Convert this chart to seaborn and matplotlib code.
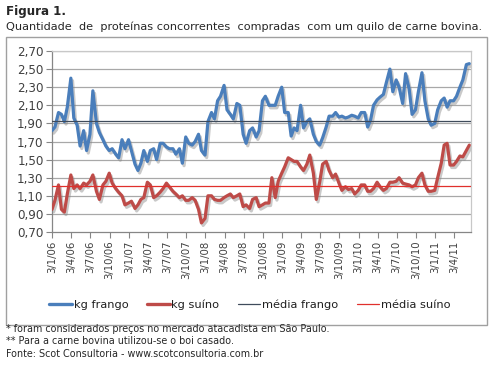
import pandas as pd
import matplotlib
matplotlib.use('Agg')
import matplotlib.pyplot as plt
import matplotlib.patheffects as pe
from matplotlib.patches import Rectangle
from matplotlib.lines import Line2D
import seaborn as sns

# semi-monthly readings, Jan/2006 .. Jun/2011
frango = [
    1.82, 1.86, 2.02, 2.00, 1.92, 2.08, 2.40, 1.96, 1.88, 1.65,
    1.82, 1.60, 1.78, 2.26, 1.90, 1.80, 1.72, 1.65, 1.60, 1.62,
    1.56, 1.52, 1.72, 1.62, 1.72, 1.60, 1.45, 1.38, 1.46, 1.60,
    1.48, 1.60, 1.62, 1.50, 1.68, 1.68, 1.64, 1.62, 1.62, 1.56,
    1.62, 1.46, 1.75, 1.68, 1.66, 1.70, 1.78, 1.60, 1.55, 1.92,
    2.02, 1.95, 2.15, 2.20, 2.32, 2.05, 2.00, 1.95, 2.12, 2.10,
    1.78, 1.68, 1.82, 1.85, 1.75, 1.82, 2.15, 2.20, 2.10, 2.10,
    2.10, 2.20, 2.30, 2.02, 2.02, 1.76, 1.85, 1.82, 2.10, 1.85,
    1.92, 1.95, 1.78, 1.70, 1.66, 1.74, 1.86, 1.98, 1.98, 2.02,
    1.97, 1.98, 1.96, 1.97, 1.99, 1.98, 1.96, 2.02, 2.02, 1.86,
    1.94, 2.10, 2.16, 2.19, 2.22, 2.35, 2.50, 2.25, 2.38, 2.30,
    2.12, 2.45, 2.28, 2.00, 2.05, 2.25, 2.46, 2.15, 1.95, 1.88,
    1.90, 2.05, 2.15, 2.18, 2.08, 2.15, 2.15, 2.20, 2.30, 2.38,
    2.55, 2.56,
]
suino = [
    0.95, 1.05, 1.22, 0.95, 0.92, 1.12, 1.33, 1.18, 1.22, 1.18,
    1.24, 1.22, 1.26, 1.33, 1.15, 1.06, 1.22, 1.26, 1.35, 1.24,
    1.18, 1.14, 1.10, 1.00, 1.02, 1.04, 0.96, 1.00, 1.06, 1.08,
    1.25, 1.22, 1.08, 1.10, 1.14, 1.18, 1.24, 1.20, 1.15, 1.12,
    1.08, 1.10, 1.05, 1.05, 1.08, 1.05, 0.95, 0.80, 0.85, 1.10,
    1.10, 1.06, 1.05, 1.05, 1.08, 1.10, 1.12, 1.08, 1.10, 1.12,
    0.98, 1.00, 0.96, 1.06, 1.08, 0.98, 1.00, 1.02, 1.02, 1.30,
    1.08, 1.26, 1.35, 1.42, 1.52, 1.50, 1.48, 1.48, 1.42, 1.38,
    1.45, 1.55, 1.35, 1.06, 1.25, 1.45, 1.48, 1.38, 1.30, 1.34,
    1.24, 1.16, 1.20, 1.17, 1.18, 1.12, 1.16, 1.22, 1.22, 1.15,
    1.15, 1.18, 1.25, 1.20, 1.16, 1.18, 1.25, 1.25, 1.26, 1.30,
    1.24, 1.23, 1.22, 1.20, 1.22, 1.30, 1.35, 1.22, 1.15, 1.15,
    1.16, 1.30, 1.46, 1.66, 1.68, 1.44, 1.44, 1.48, 1.54, 1.53,
    1.60, 1.66,
]
media_frango = 1.93
media_suino = 1.21

x_labels = ['3/1/06', '3/4/06', '3/7/06', '3/10/06', '3/1/07', '3/4/07', '3/7/07',
            '3/10/07', '3/1/08', '3/4/08', '3/7/08', '3/10/08', '3/1/09', '3/4/09',
            '3/7/09', '3/10/09', '3/1/10', '3/4/10', '3/7/10', '3/10/10', '3/1/11',
            '3/4/11']
y_ticks = [0.70, 0.90, 1.10, 1.30, 1.50, 1.70, 1.90, 2.10, 2.30, 2.50, 2.70]

dates = pd.date_range('2006-01-01', periods=len(frango), freq='SMS')
df = pd.DataFrame({'data': dates, 'kg frango': frango, 'kg suíno': suino})
x_ticks = pd.to_datetime([f"20{s.split('/')[2]}-{int(s.split('/')[1]):02d}-03" for s in x_labels])

sns.set_theme(style='white')
plt.rcParams['font.family'] = ['DejaVu Sans']

BLUE = '#4A7EBB'
RED = '#BE4B48'

fig = plt.figure(figsize=(4.91, 3.65), dpi=100)
ax = fig.add_axes([52 / 491, 1 - 232 / 365, 419 / 491, 181 / 365])

# outer frame
fig.patches.append(Rectangle((6 / 491, 1 - 325 / 365), 481 / 491, 288 / 365,
                             transform=fig.transFigure, fill=False,
                             edgecolor='#A0A0A0', lw=1.0))

for y in y_ticks[1:]:
    ax.axhline(y, color='#A8A8A8', lw=0.9, zorder=0)

shadow = [pe.SimpleLineShadow(offset=(1.2, -1.8), shadow_color='#888888', alpha=0.45),
          pe.Normal()]
sns.lineplot(data=df, x='data', y='kg frango', ax=ax, color=BLUE, lw=2.3,
             path_effects=shadow, zorder=3)
sns.lineplot(data=df, x='data', y='kg suíno', ax=ax, color=RED, lw=2.3,
             path_effects=shadow, zorder=3)
ax.axhline(media_frango, color='#3F4B5B', lw=0.9, zorder=4)
ax.axhline(media_suino, color='#E0302C', lw=0.9, zorder=4)

ax.set_xlim(dates[0], dates[-1] + pd.Timedelta(days=8))
ax.set_ylim(0.70, 2.70)
ax.set_yticks(y_ticks)
ax.set_yticklabels([f'{v:.2f}'.replace('.', ',') for v in y_ticks], fontsize=8.6, color='#404040')
ax.set_xticks(x_ticks)
ax.set_xticklabels(x_labels, rotation=90, fontsize=7.3, color='#404040')
ax.set_xlabel('')
ax.set_ylabel('')
ax.tick_params(axis='both', length=4, width=0.8, color='#868686', pad=2, direction='out')
ax.tick_params(axis='x', bottom=True)
ax.tick_params(axis='y', left=True)
for side in ['left', 'bottom']:
    ax.spines[side].set_color('#868686')
    ax.spines[side].set_linewidth(0.9)
for side in ['top', 'right']:
    ax.spines[side].set_color('#C8C8C8')
    ax.spines[side].set_linewidth(0.9)

handles = [Line2D([], [], color=BLUE, lw=2.4),
           Line2D([], [], color=RED, lw=2.4),
           Line2D([], [], color='#3F4B5B', lw=0.9),
           Line2D([], [], color='#E0302C', lw=0.9)]
fig.legend(handles, ['kg frango', 'kg suíno', 'média frango', 'média suíno'],
           loc='center', bbox_to_anchor=(250 / 491, 1 - 305 / 365), ncol=4,
           frameon=False, fontsize=8.2, handlelength=2.0, handletextpad=0.15,
           columnspacing=1.6, labelcolor='#202020')

fig.text(6 / 491, 1 - 12 / 365, 'Figura 1.', fontsize=8.6, fontweight='bold', va='center')
fig.text(6 / 491, 1 - 27 / 365,
         'Quantidade  de  proteínas concorrentes  compradas  com um quilo de carne bovina.',
         fontsize=8.1, va='center')
notes = ['* foram considerados preços no mercado atacadista em São Paulo.',
         '** Para a carne bovina utilizou-se o boi casado.',
         'Fonte: Scot Consultoria - www.scotconsultoria.com.br']
for i, t in enumerate(notes):
    fig.text(6 / 491, 1 - (329 + 12.5 * i) / 365, t, fontsize=6.9, va='center')

fig.savefig('out.png', dpi=100, facecolor='white')
